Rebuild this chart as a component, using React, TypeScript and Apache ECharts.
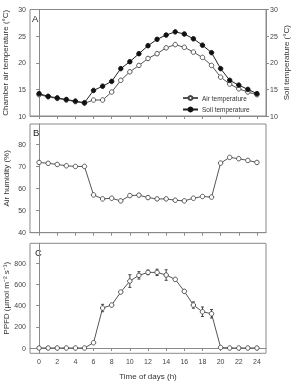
import React, { useEffect, useRef } from "react";
import * as echarts from "echarts";

const hours = [0, 1, 2, 3, 4, 5, 6, 7, 8, 9, 10, 11, 12, 13, 14, 15, 16, 17, 18, 19, 20, 21, 22, 23, 24];
const airTemp = [14.0, 13.6, 13.3, 13.0, 12.7, 12.4, 13.0, 13.0, 14.5, 16.7, 18.3, 19.5, 20.8, 21.7, 22.8, 23.4, 22.9, 22.0, 21.0, 19.5, 17.3, 16.0, 15.1, 14.5, 14.0];
const soilTemp = [14.2, 13.7, 13.4, 13.1, 12.8, 12.5, 14.8, 15.6, 16.5, 18.9, 20.2, 21.7, 23.2, 24.4, 25.2, 25.8, 25.4, 24.5, 23.3, 21.9, 18.9, 16.7, 15.8, 15.0, 14.2];
const humidity = [71.8, 71.4, 70.9, 70.3, 70.0, 70.0, 57.1, 55.3, 55.6, 54.4, 56.8, 57.0, 55.9, 55.3, 55.3, 54.7, 54.4, 55.6, 56.4, 56.1, 71.5, 74.1, 73.5, 72.7, 71.8];
const ppfd = [0, 0, 0, 0, 0, 0, 50, 378, 406, 529, 633, 687, 715, 715, 690, 649, 536, 406, 343, 324, 5, 0, 0, 0, 0];
const ppfdErr = [0, 0, 0, 0, 0, 0, 0, 35, 15, 0, 60, 35, 22, 30, 50, 0, 15, 30, 45, 40, 0, 0, 0, 0, 0];
const xTicks = [0, 2, 4, 6, 8, 10, 12, 14, 16, 18, 20, 22, 24];
const tempTicks = [10, 15, 20, 25, 30];
const humTicks = [40, 50, 60, 70, 80];
const ppfdTicks = [0, 200, 400, 600, 800];

const FONT = "Liberation Sans, Arial, sans-serif";
const AXIS = "#8a8a8a";
const LBL = "#444";

export default function App() {
  const ref = useRef<HTMLDivElement>(null);
  useEffect(() => {
    if (!ref.current) return;
    const chart = echarts.init(ref.current, null, { renderer: "svg" });
    const grids = [
      { left: 30, width: 236, top: 9.5, height: 106.5 },
      { left: 30, width: 236, top: 124, height: 108.7 },
      { left: 30, width: 236, top: 243.3, height: 110 },
    ].map((g) => ({
      ...g,
      show: true,
      borderColor: AXIS,
      borderWidth: 1,
      containLabel: false,
      outerBoundsMode: "none",
    }));

    const xAxisBase = (gi: number, showLabels: boolean) => ({
      type: "value",
      gridIndex: gi,
      min: -1,
      max: 25,
      axisLine: { show: true, lineStyle: { color: AXIS, width: 1 } },
      axisTick: { show: true, length: 3, customValues: xTicks, lineStyle: { color: AXIS } },
      axisLabel: {
        show: showLabels,
        customValues: xTicks,
        fontSize: 7,
        color: LBL,
        fontFamily: FONT,
        margin: 5,
      },
      splitLine: { show: false },
      name: showLabels ? "Time of days (h)" : "",
      nameLocation: "middle",
      nameGap: 19,
      nameMoveOverlap: false,
      nameTextStyle: { fontSize: 8, color: "#333", fontFamily: FONT },
    });

    const yAxisBase = (gi: number, min: number, max: number, ticks: number[], name: string, pos: string, gap: number) => ({
      type: "value",
      gridIndex: gi,
      position: pos,
      min,
      max,
      axisLine: { show: true, lineStyle: { color: AXIS, width: 1 } },
      axisTick: { show: true, length: 3, customValues: ticks, lineStyle: { color: AXIS } },
      axisLabel: { customValues: ticks, fontSize: 7, color: LBL, fontFamily: FONT, margin: 4 },
      splitLine: { show: false },
      name,
      nameLocation: "middle",
      nameRotate: 90,
      nameGap: gap,
      nameMoveOverlap: false,
      nameTextStyle: { fontSize: 8, color: "#333", fontFamily: FONT },
    });

    const lineSeries = (name: string, data: number[], xi: number, yi: number, filled: boolean) => ({
      type: "line",
      name,
      xAxisIndex: xi,
      yAxisIndex: yi,
      data: hours.map((h, i) => [h, data[i]]),
      symbol: "circle",
      symbolSize: 4.5,
      showAllSymbol: true,
      lineStyle: { color: filled ? "#222" : "#555", width: 1 },
      itemStyle: { color: filled ? "#111" : "#fff", borderColor: filled ? "#111" : "#444", borderWidth: 0.9 },
      z: 3,
    });

    const errData = hours
      .map((h, i) => [h, ppfd[i] - ppfdErr[i], ppfd[i] + ppfdErr[i], ppfdErr[i]])
      .filter((d) => d[3] > 0);

    chart.setOption({
      animation: false,
      textStyle: { fontFamily: FONT },
      grid: grids,
      xAxis: [xAxisBase(0, false), xAxisBase(1, false), xAxisBase(2, true)],
      yAxis: [
        yAxisBase(0, 10, 30, tempTicks, "Chamber air temperature (°C)", "left", 21),
        yAxisBase(0, 10, 30, tempTicks, "Soil temperature (°C)", "right", 16),
        yAxisBase(1, 40, 89.2, humTicks, "Air humidity (%)", "left", 20),
        yAxisBase(2, -50, 990, ppfdTicks, "PPFD (μmol m⁻² s⁻¹)", "left", 20),
      ],
      legend: {
        orient: "vertical",
        left: 182,
        top: 94.5,
        itemWidth: 15,
        itemHeight: 5,
        itemGap: 4.5,
        padding: 0,
        textStyle: { fontSize: 6.5, color: "#333", fontFamily: FONT, padding: [0, 0, 0, -1] },
        data: ["Air temperature", "Soil temperature"],
      },
      graphic: [
        { type: "text", left: 32, top: 13, style: { text: "A", fontSize: 9.5, fill: "#222", fontFamily: FONT } },
        { type: "text", left: 33, top: 127.5, style: { text: "B", fontSize: 9.5, fill: "#222", fontFamily: FONT } },
        { type: "text", left: 35, top: 247.5, style: { text: "C", fontSize: 9.5, fill: "#222", fontFamily: FONT } },
      ],
      series: [
        lineSeries("Air temperature", airTemp, 0, 0, false),
        lineSeries("Soil temperature", soilTemp, 0, 1, true),
        lineSeries("Air humidity", humidity, 1, 2, false),
        {
          type: "custom",
          name: "err",
          xAxisIndex: 2,
          yAxisIndex: 3,
          data: errData,
          encode: { x: 0, y: [1, 2] },
          z: 2,
          renderItem: (params: any, api: any) => {
            const x = api.value(0);
            const p1 = api.coord([x, api.value(1)]);
            const p2 = api.coord([x, api.value(2)]);
            const c = 1.5;
            const st = { stroke: "#444", lineWidth: 1 };
            return {
              type: "group",
              children: [
                { type: "line", shape: { x1: p1[0], y1: p1[1], x2: p2[0], y2: p2[1] }, style: st },
                { type: "line", shape: { x1: p1[0] - c, y1: p1[1], x2: p1[0] + c, y2: p1[1] }, style: st },
                { type: "line", shape: { x1: p2[0] - c, y1: p2[1], x2: p2[0] + c, y2: p2[1] }, style: st },
              ],
            };
          },
        },
        lineSeries("PPFD", ppfd, 2, 3, false),
      ],
    });
    return () => chart.dispose();
  }, []);
  return <div ref={ref} style={{ position: "fixed", left: 0, top: 0, width: 292, height: 383 }} />;
}
